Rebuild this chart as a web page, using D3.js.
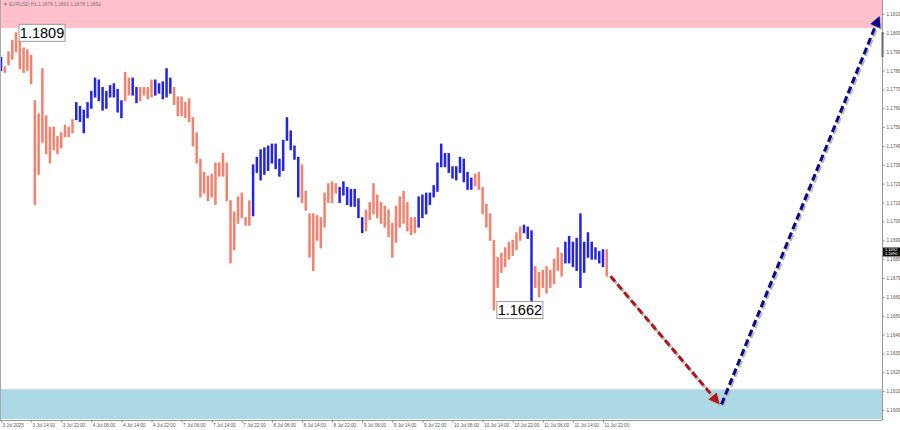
<!DOCTYPE html>
<html><head><meta charset="utf-8">
<script src="https://cdn.jsdelivr.net/npm/d3@7"></script>
<style>body{margin:0;background:#fff}svg{display:block}</style>
</head><body>
<svg id="c" width="900" height="430"></svg>
<script>
// ---------- data ----------
const headerText = "\u25BC EURUSD,H1  1.1679 1.1693 1.1678 1.1692";
const timeLabels = ["3 Jul 2025","3 Jul 14:00","3 Jul 22:00","4 Jul 06:00","4 Jul 14:00","4 Jul 22:00",
  "7 Jul 06:00","7 Jul 14:00","7 Jul 22:00","8 Jul 06:00","8 Jul 14:00","8 Jul 22:00",
  "9 Jul 06:00","9 Jul 14:00","9 Jul 22:00","10 Jul 06:00","10 Jul 14:00","10 Jul 22:00",
  "11 Jul 06:00","11 Jul 14:00","11 Jul 22:00"];
const barsPerLabel = 8; // hourly bars between time labels
const priceTicks = d3.range(0, 22).map(k => +(1.1609 + k * 0.001).toFixed(4));
const highs = [
1.1796,1.1791,1.1799,1.1805,1.1809,1.1805,1.1801,1.1800,1.1797,1.1773,
1.1766,1.1790,1.1765,1.1759,1.1759,1.1754,1.1756,1.1760,1.1759,1.1763,
1.1772,1.1770,1.1768,1.1772,1.1778,1.1785,1.1784,1.1780,1.1778,1.1781,
1.1782,1.1779,1.1773,1.1788,1.1785,1.1785,1.1780,1.1780,1.1780,1.1780,
1.1784,1.1784,1.1782,1.1783,1.1790,1.1785,1.1780,1.1775,1.1775,1.1772,
1.1774,1.1764,1.1756,1.1742,1.1735,1.1733,1.1734,1.1740,1.1740,1.1745,
1.1740,1.1720,1.1714,1.1722,1.1724,1.1711,1.1720,1.1739,1.1743,1.1747,
1.1748,1.1749,1.1750,1.1750,1.1742,1.1752,1.1764,1.1757,1.1749,1.1743,
1.1739,1.1725,1.1713,1.1713,1.1712,1.1711,1.1724,1.1729,1.1730,1.1729,
1.1727,1.1730,1.1727,1.1726,1.1726,1.1721,1.1711,1.1715,1.1719,1.1729,
1.1723,1.1719,1.1717,1.1715,1.1708,1.1717,1.1722,1.1725,1.1719,1.1711,
1.1711,1.1722,1.1723,1.1724,1.1724,1.1728,1.1740,1.1750,1.1745,1.1745,
1.1738,1.1738,1.1743,1.1742,1.1735,1.1732,1.1734,1.1735,1.1727,1.1718,
1.1713,1.1699,1.1690,1.1692,1.1695,1.1698,1.1699,1.1703,1.1706,1.1707,
1.1706,1.1704,1.1685,1.1682,1.1683,1.1685,1.1683,1.1689,1.1695,1.1692,
1.1698,1.1701,1.1698,1.1700,1.1713,1.1698,1.1703,1.1698,1.1695,1.1693,
1.1694,1.1694];
const lows = [
1.1789,1.1788,1.1792,1.1795,1.1799,1.1790,1.1788,1.1789,1.1782,1.1718,
1.1734,1.1751,1.1745,1.1740,1.1747,1.1745,1.1748,1.1754,1.1754,1.1756,
1.1763,1.1762,1.1756,1.1764,1.1769,1.1775,1.1773,1.1768,1.1769,1.1775,
1.1775,1.1767,1.1764,1.1773,1.1776,1.1776,1.1772,1.1773,1.1776,1.1774,
1.1775,1.1776,1.1777,1.1774,1.1775,1.1777,1.1771,1.1765,1.1765,1.1764,
1.1762,1.1749,1.1740,1.1722,1.1724,1.1720,1.1722,1.1718,1.1733,1.1733,
1.1720,1.1687,1.1694,1.1708,1.1711,1.1707,1.1707,1.1712,1.1735,1.1731,
1.1734,1.1736,1.1740,1.1737,1.1733,1.1736,1.1752,1.1747,1.1742,1.1722,
1.1719,1.1715,1.1690,1.1683,1.1699,1.1695,1.1706,1.1719,1.1719,1.1724,
1.1719,1.1723,1.1718,1.1717,1.1717,1.1711,1.1703,1.1704,1.1710,1.1713,
1.1711,1.1708,1.1706,1.1701,1.1690,1.1698,1.1706,1.1708,1.1704,1.1702,
1.1703,1.1706,1.1711,1.1713,1.1718,1.1722,1.1725,1.1738,1.1738,1.1735,
1.1732,1.1731,1.1735,1.1730,1.1726,1.1726,1.1728,1.1726,1.1713,1.1706,
1.1699,1.1662,1.1674,1.1682,1.1685,1.1689,1.1691,1.1694,1.1699,1.1703,
1.1700,1.1665,1.1674,1.1669,1.1674,1.1671,1.1674,1.1676,1.1683,1.1680,
1.1687,1.1687,1.1685,1.1683,1.1674,1.1682,1.1690,1.1689,1.1689,1.1687,
1.1685,1.1680];
// bar index ranges of the rising (blue) wave segments; all other bars are falling (salmon)
const risingWaves = [[0,0],[20,32],[35,36],[41,45],[67,79],[90,96],[111,125],[139,141],[150,160]];
// marked extremes
const extremes = [{bar: 4, price: 1.1809, label: "1.1809"}, {bar: 131, price: 1.1662, label: "1.1662"}];
// zones
const resistanceZone = [1.18116, 1.1830];
const supportZone = [1.16042, 1.1620];
// forecast path (bar index, price)
const forecastDown = [[162, 1.1680], [191, 1.1612]];
const forecastUp = [[191.5, 1.1612], [233.5, 1.1818]];
const currentPrice = ["1.1692", "1.1690"];

// ---------- drawing ----------
const svg = d3.select("#c");
const plotW = 882, plotH = 420;
const x = d3.scaleLinear().domain([0, 160]).range([1, 603]);
const y = d3.scaleLinear().domain([1.1609, 1.1819]).range([410, 14]);

svg.append("defs").append("clipPath").attr("id", "clip")
  .append("rect").attr("x", 0).attr("y", 0).attr("width", plotW).attr("height", plotH);
const g = svg.append("g").attr("clip-path", "url(#clip)");

// zones
g.append("rect").attr("x", 0).attr("width", plotW)
  .attr("y", y(resistanceZone[1])).attr("height", y(resistanceZone[0]) - y(resistanceZone[1]))
  .attr("fill", "#ffc0cb");
g.append("rect").attr("x", 0).attr("width", plotW)
  .attr("y", y(supportZone[1])).attr("height", y(supportZone[0]) - y(supportZone[1]))
  .attr("fill", "#add8e6");

// bars
const isRising = i => risingWaves.some(([a, b]) => i >= a && i <= b);
const bars = highs.map((h, i) => ({i, h, l: lows[i], up: isRising(i)}));
g.append("g").selectAll("line").data(bars).join("line")
  .attr("x1", d => x(d.i)).attr("x2", d => x(d.i))
  .attr("y1", d => y(d.h) - 0.5).attr("y2", d => y(d.l) + 0.5)
  .attr("stroke", d => d.up ? "#2323ee" : "#f7806c")
  .attr("stroke-width", 2.5);

// forecast arrows
function dashedArrow(pts, color) {
  const p = pts.map(([b, v]) => [x(b), y(v)]);
  const [x1, y1] = p[0], [x2, y2] = p[1];
  const ang = Math.atan2(y2 - y1, x2 - x1);
  const headLen = 11, headW = 5.5;
  const bx = x2 - headLen * Math.cos(ang), by = y2 - headLen * Math.sin(ang);
  g.append("line").attr("x1", x1 + 1.5).attr("y1", y1 + 1.8).attr("x2", bx + 1.5).attr("y2", by + 1.8)
    .attr("stroke", "#b8b8b8").attr("stroke-width", 3).attr("stroke-dasharray", "7,3.5");
  g.append("line").attr("x1", x1).attr("y1", y1).attr("x2", bx).attr("y2", by)
    .attr("stroke", color).attr("stroke-width", 3).attr("stroke-dasharray", "7,3.5");
  const px = -Math.sin(ang), py = Math.cos(ang);
  const tri = [[x2, y2], [bx + px * headW, by + py * headW], [bx - px * headW, by - py * headW]];
  g.append("polygon").attr("points", tri.map(t => [t[0] + 1.5, t[1] + 1.8].join(",")).join(" ")).attr("fill", "#bbbbbb");
  g.append("polygon").attr("points", tri.map(t => t.join(",")).join(" ")).attr("fill", color);
}
dashedArrow(forecastDown, "#b5161b");
dashedArrow(forecastUp, "#0a0a8c");

// extreme labels
extremes.forEach(e => {
  const gx = x(e.bar) + 3, gy = y(e.price);
  const lab = svg.append("g");
  lab.append("rect").attr("x", gx).attr("y", gy - 8.5).attr("width", 46).attr("height", 17)
    .attr("fill", "#fff").attr("stroke", "#9a9a9a").attr("stroke-width", 1);
  lab.append("text").attr("x", gx + 23).attr("y", gy + 5).attr("text-anchor", "middle")
    .attr("font-family", "Liberation Sans, Arial, sans-serif").attr("font-size", 14.5)
    .attr("fill", "#000").text(e.label);
});

// frame and axes
svg.append("line").attr("x1", 0.5).attr("x2", 0.5).attr("y1", 0).attr("y2", plotH).attr("stroke", "#aaa");
svg.append("line").attr("x1", plotW + 0.5).attr("x2", plotW + 0.5).attr("y1", 0).attr("y2", plotH).attr("stroke", "#999");
svg.append("line").attr("x1", plotW + 0.5).attr("x2", plotW + 0.5).attr("y1", 32).attr("y2", 57).attr("stroke", "#666").attr("stroke-width", 2);
svg.append("line").attr("x1", 0).attr("x2", plotW).attr("y1", plotH + 0.5).attr("y2", plotH + 0.5).attr("stroke", "#999");

const yAxis = d3.axisRight(y).tickValues(priceTicks).tickSize(2).tickFormat(d3.format(".4f"));
const ya = svg.append("g").attr("transform", `translate(${plotW + 0.5},0)`).call(yAxis);
ya.select(".domain").remove();
ya.selectAll("line").attr("stroke", "#888");
ya.selectAll("text").attr("font-family", "Liberation Sans, Arial, sans-serif").attr("font-size", 4.6).attr("fill", "#555").attr("x", 4);

const labelIdx = timeLabels.map((t, k) => k * barsPerLabel);
const xAxis = d3.axisBottom(x).tickValues(labelIdx).tickSize(2).tickFormat((d, k) => timeLabels[k]);
const xa = svg.append("g").attr("transform", `translate(0,${plotH + 0.5})`).call(xAxis);
xa.select(".domain").remove();
xa.selectAll("line").attr("stroke", "#888");
xa.selectAll("text").attr("font-family", "Liberation Sans, Arial, sans-serif").attr("font-size", 4.6)
  .attr("fill", "#555").attr("text-anchor", "start").attr("dx", 1).attr("y", 3).attr("dy", "0.71em");

// current price marker
const cp = svg.append("g");
cp.append("rect").attr("x", plotW + 1).attr("y", y(+currentPrice[0]) - 6).attr("width", 17).attr("height", 9).attr("fill", "#111");
currentPrice.forEach((t, k) => cp.append("text").attr("x", plotW + 3).attr("y", y(+currentPrice[0]) - 2 + k * 4)
  .attr("font-family", "Liberation Sans, Arial, sans-serif").attr("font-size", 4).attr("fill", "#fff").text(t));

// header
svg.append("text").attr("x", 3).attr("y", 6).attr("font-family", "Liberation Sans, Arial, sans-serif")
  .attr("font-size", 4.8).attr("fill", "#777").text(headerText);
</script>
</body></html>
